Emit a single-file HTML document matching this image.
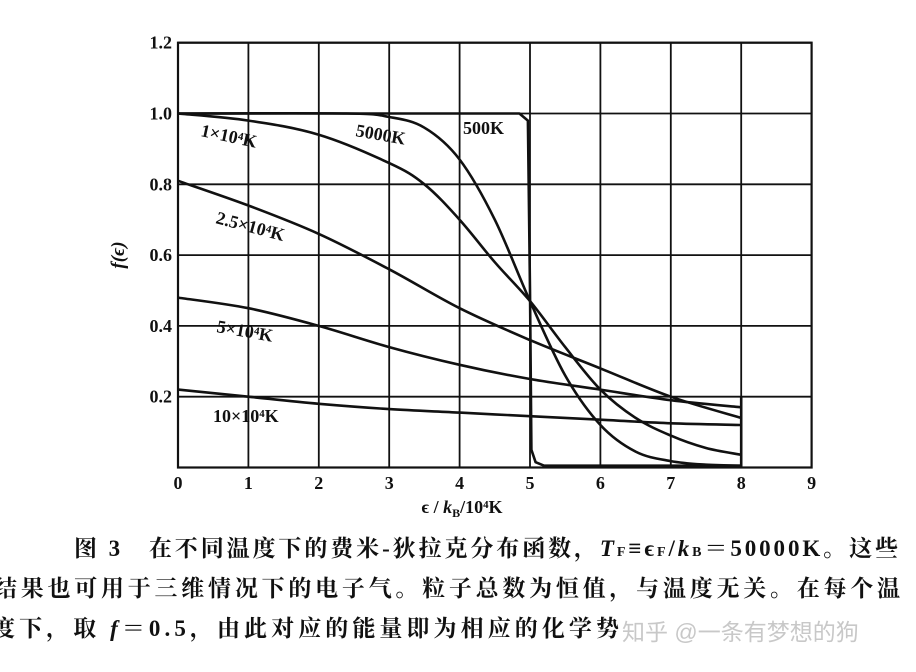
<!DOCTYPE html>
<html><head><meta charset="utf-8"><style>
html,body{margin:0;padding:0;background:#fff;width:916px;height:672px;overflow:hidden}
svg{display:block}
.cap{font-family:"Liberation Serif","Noto Serif CJK SC",serif;font-weight:bold;font-size:23px;fill:#111}
</style></head><body>
<svg id="chart" width="916" height="672" viewBox="0 0 916 672">
<g id="grid"></g>
<g id="axes"></g>
<g id="series"></g>
<g id="labels" font-family="Liberation Serif, serif" font-weight="bold" font-size="18" fill="#111">
<text x="200" y="136" transform="rotate(12 200 136)">1×10⁴K</text>
<text x="355" y="136" transform="rotate(10 355 136)">5000K</text>
<text x="463" y="134">500K</text>
<text x="215" y="223" transform="rotate(15 215 223)">2.5×10⁴K</text>
<text x="216" y="332" transform="rotate(10 216 332)">5×10⁴K</text>
<text x="213" y="422">10×10⁴K</text>
</g>
<text x="124" y="255" transform="rotate(-90 124 255)" text-anchor="middle" font-family="Liberation Serif, serif" font-style="italic" font-weight="bold" font-size="19" fill="#111">f(ϵ)</text>
<text x="462" y="513" text-anchor="middle" font-family="Liberation Serif, serif" font-weight="bold" font-size="18" fill="#111">ϵ / <tspan font-style="italic">k</tspan><tspan font-size="12" dy="4">B</tspan><tspan dy="-4">/10⁴K</tspan></text>
<g>
<text class="cap" x="74" y="556" textLength="824" lengthAdjust="spacing">图 3　在不同温度下的费米-狄拉克分布函数，<tspan font-style="italic">T</tspan><tspan font-size="14">F</tspan>≡ϵ<tspan font-size="14">F</tspan>/<tspan font-style="italic">k</tspan><tspan font-size="14">B</tspan>＝50000K。这些</text>
<text class="cap" x="-6" y="596" textLength="906" lengthAdjust="spacing">结果也可用于三维情况下的电子气。粒子总数为恒值，与温度无关。在每个温</text>
<text class="cap" x="-8" y="636" textLength="627" lengthAdjust="spacing">度下，取 <tspan font-style="italic">f</tspan>＝0.5，由此对应的能量即为相应的化学势</text>
<text x="622" y="640" font-family="Liberation Sans, Noto Sans CJK SC, sans-serif" font-size="23" fill="#c8c8c8">知乎 @一条有梦想的狗</text>
</g>
</svg>
<script>
const xTicks=[0,1,2,3,4,5,6,7,8,9];
const yTicks=[0.2,0.4,0.6,0.8,1.0,1.2];
const yTickLabels=["0.2","0.4","0.6","0.8","1.0","1.2"];
const xs500=[0,4.85,4.97,5.0,5.02,5.08,5.2,8];
const f500=[1.0,1.0,0.98,0.5,0.05,0.015,0.005,0.005];
const xs5000=[0,2.4,3,3.5,4,4.5,5,5.5,6,6.5,7,7.5,8];
const f5000=[1.0,1.0,0.99,0.96,0.87,0.7,0.47,0.26,0.12,0.045,0.018,0.008,0.005];
const xs1e4=[0,1,2,3,3.5,4,4.5,5,5.5,6,6.5,7,7.5,8];
const f1e4=[1.0,0.98,0.94,0.86,0.8,0.7,0.58,0.47,0.34,0.22,0.14,0.09,0.055,0.036];
const xsN=[0,1,2,3,4,5,6,7,8];
const f25e4=[0.81,0.74,0.66,0.56,0.45,0.36,0.28,0.2,0.14];
const f5e4=[0.48,0.45,0.40,0.34,0.29,0.25,0.22,0.19,0.17];
const f10e4=[0.22,0.20,0.18,0.165,0.155,0.145,0.135,0.125,0.12];
const NS="http://www.w3.org/2000/svg";
const X=v=>178+v*70.4, Y=v=>467.5-v*354;
function mk(tag,parent,attrs){const e=document.createElementNS(NS,tag);for(const k in attrs)e.setAttribute(k,attrs[k]);parent.appendChild(e);return e;}
const grid=document.getElementById('grid'),axes=document.getElementById('axes'),ser=document.getElementById('series');
xTicks.forEach(t=>{
 const l=mk('line',grid,{x1:X(t),x2:X(t),y1:Y(1.2),y2:Y(0),stroke:'#111','stroke-width':1.8});
 
 
 const tx=mk('text',axes,{x:X(t),y:489,'text-anchor':'middle','font-family':'Liberation Serif, serif','font-weight':'bold','font-size':18,fill:'#111'});
 tx.textContent=t;
 
 
});
yTicks.forEach((t,i)=>{
 const l=mk('line',grid,{x1:X(0),x2:X(9),y1:Y(t),y2:Y(t),stroke:'#111','stroke-width':1.8});
 
 
 const tx=mk('text',axes,{x:172,y:Y(t)+6,'text-anchor':'end','font-family':'Liberation Serif, serif','font-weight':'bold','font-size':18,fill:'#111'});
 tx.textContent=yTickLabels[i];
 
 
});
const base=mk('rect',axes,{x:X(0),y:Y(1.2),width:X(9)-X(0),height:Y(0)-Y(1.2),fill:'none',stroke:'#111','stroke-width':2.2});


function curve(xs,ys,name,smooth){
 const P=xs.map((x,i)=>[X(x),Y(ys[i])]);
 let d='M'+P[0][0].toFixed(1)+','+P[0][1].toFixed(1);
 for(let i=0;i<P.length-1;i++){
  if(!smooth){d+='L'+P[i+1][0].toFixed(1)+','+P[i+1][1].toFixed(1);continue;}
  const p0=P[Math.max(0,i-1)],p1=P[i],p2=P[i+1],p3=P[Math.min(P.length-1,i+2)];
  const c1=[p1[0]+(p2[0]-p0[0])/6,p1[1]+(p2[1]-p0[1])/6],c2=[p2[0]-(p3[0]-p1[0])/6,p2[1]-(p3[1]-p1[1])/6];
  d+='C'+c1.map(v=>v.toFixed(1)).join(',')+' '+c2.map(v=>v.toFixed(1)).join(',')+' '+p2.map(v=>v.toFixed(1)).join(',');
 }
 const p=mk('path',ser,{d:d,fill:'none',stroke:'#111','stroke-width':2.6,'stroke-linejoin':'round'});
 
 
}
curve(xs500,f500,'curve-500k',false);
curve(xs5000,f5000,'curve-5000k',true);
curve(xs1e4,f1e4,'curve-1e4k',true);
curve(xsN,f25e4,'curve-2-5e4k',true);
curve(xsN,f5e4,'curve-5e4k',true);
curve(xsN,f10e4,'curve-10e4k',true);
const end=mk('line',ser,{x1:X(8),x2:X(8),y1:Y(0.2),y2:Y(0),stroke:'#111','stroke-width':2.6});


</script>
</body></html>
